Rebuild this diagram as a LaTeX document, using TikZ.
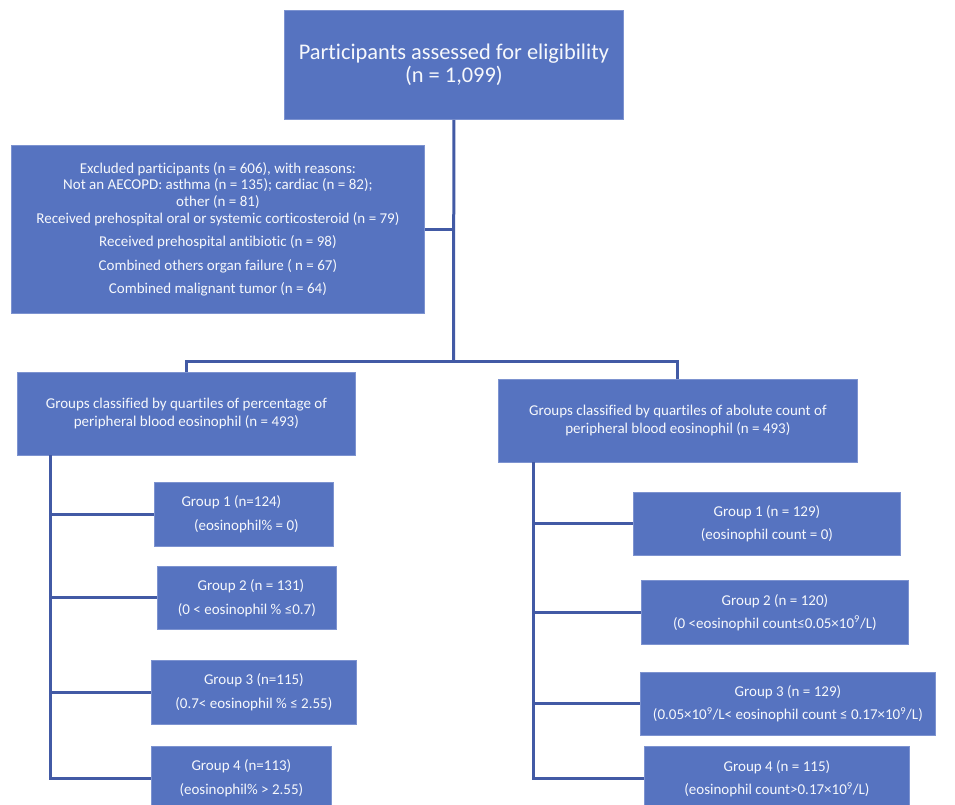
\documentclass[tikz,border=0pt]{standalone}
\usepackage{fontspec}
\setmainfont{Carlito}[Ligatures=NoCommon]
\definecolor{boxblue}{RGB}{86,115,192}
\definecolor{boxedge}{RGB}{125,147,208}
\definecolor{linkblue}{RGB}{66,90,165}
\definecolor{txt}{RGB}{246,248,252}
\begin{document}
\begin{tikzpicture}[x=1pt,y=-1pt,
  box/.style={fill=boxblue,draw=boxedge,line width=0.8pt,text=txt,align=center,
    anchor=north west,inner sep=0pt,font=\fontsize{15}{16.3}\selectfont},
  conn/.style={draw=linkblue,line width=3pt}]
\useasboundingbox (0,0) rectangle (955,805);
% top box
\node[box,minimum width=339pt,minimum height=109pt,font=\fontsize{22.4}{23}\selectfont] (top) at (284,10)
  {Participants assessed for eligibility\\(n = 1,099)};
% excluded
\node[box,minimum width=413pt,minimum height=168pt] (excl) at (11,145)
  {Excluded participants (n = 606), with reasons:\\
   Not an AECOPD: asthma (n = 135); cardiac (n = 82);\\
   other (n = 81)\\[1pt]
   Received prehospital oral or systemic corticosteroid (n = 79)\\[7pt]
   Received prehospital antibiotic (n = 98)\\[7.5pt]
   Combined others organ failure ( n = 67)\\[7pt]
   Combined malignant tumor (n = 64)};
% mid boxes
\node[box,minimum width=338pt,minimum height=83pt,font=\fontsize{15}{18}\selectfont] (left) at (17,372)
  {Groups classified by quartiles of percentage of\\peripheral blood eosinophil (n = 493)};
\node[box,minimum width=359pt,minimum height=83pt,font=\fontsize{15}{18}\selectfont] (right) at (498,379)
  {Groups classified by quartiles of abolute count of\\peripheral blood eosinophil (n = 493)};
% left groups
\node[box,minimum width=179pt,minimum height=64pt,font=\fontsize{15}{24}\selectfont] (l1) at (154,482)
  {Group 1 (n=124)\hspace*{25pt}\\\hspace*{5pt}(eosinophil\% = 0)};
\node[box,minimum width=179pt,minimum height=63pt,font=\fontsize{15}{24}\selectfont] (l2) at (157,566)
  {\hspace*{8pt}Group 2 (n = 131)\\(0 < eosinophil \% ≤0.7)};
\node[box,minimum width=205pt,minimum height=64pt,font=\fontsize{15}{24}\selectfont] (l3) at (151,660)
  {Group 3 (n=115)\\(0.7< eosinophil \% ≤ 2.55)};
\node[box,minimum width=180pt,minimum height=64pt,font=\fontsize{15}{24}\selectfont] (l4) at (151,746)
  {Group 4 (n=113)\\(eosinophil\% > 2.55)};
% right groups
\node[box,minimum width=267pt,minimum height=63pt,font=\fontsize{15}{23}\selectfont] (r1) at (633,492)
  {Group 1 (n = 129)\\(eosinophil count = 0)};
\node[box,minimum width=267pt,minimum height=64pt,font=\fontsize{15}{23}\selectfont] (r2) at (641,580)
  {Group 2 (n = 120)\\(0 <eosinophil count≤0.05×10\textsuperscript{9}/L)};
\node[box,minimum width=295pt,minimum height=63pt,font=\fontsize{15}{23}\selectfont] (r3) at (640,672)
  {Group 3 (n = 129)\\(0.05×10\textsuperscript{9}/L< eosinophil count ≤ 0.17×10\textsuperscript{9}/L)};
\node[box,minimum width=265pt,minimum height=65pt,font=\fontsize{15}{23}\selectfont] (r4) at (644,746)
  {Group 4 (n = 115)\\(eosinophil count>0.17×10\textsuperscript{9}/L)};
% connectors
\coordinate (jm) at (453.5,361);
\coordinate (lb) at (50,455);
\coordinate (rb) at (533,462);
\draw[conn] (top.south) -- (jm);
\draw[conn] (excl.east) -- (excl.east -| top.south);
\draw[conn] (jm) -| (left.north);
\draw[conn] (jm) -| (right.north);
\draw[conn] (lb) -- (lb |- l4.west) -- (l4.west);
\draw[conn] (l1.west -| lb) -- (l1.west);
\draw[conn] (l2.west -| lb) -- (l2.west);
\draw[conn] (l3.west -| lb) -- (l3.west);
\draw[conn] (rb) -- (rb |- r4.west) -- (r4.west);
\draw[conn] (r1.west -| rb) -- (r1.west);
\draw[conn] (r2.west -| rb) -- (r2.west);
\draw[conn] (r3.west -| rb) -- (r3.west);
\end{tikzpicture}
\end{document}
